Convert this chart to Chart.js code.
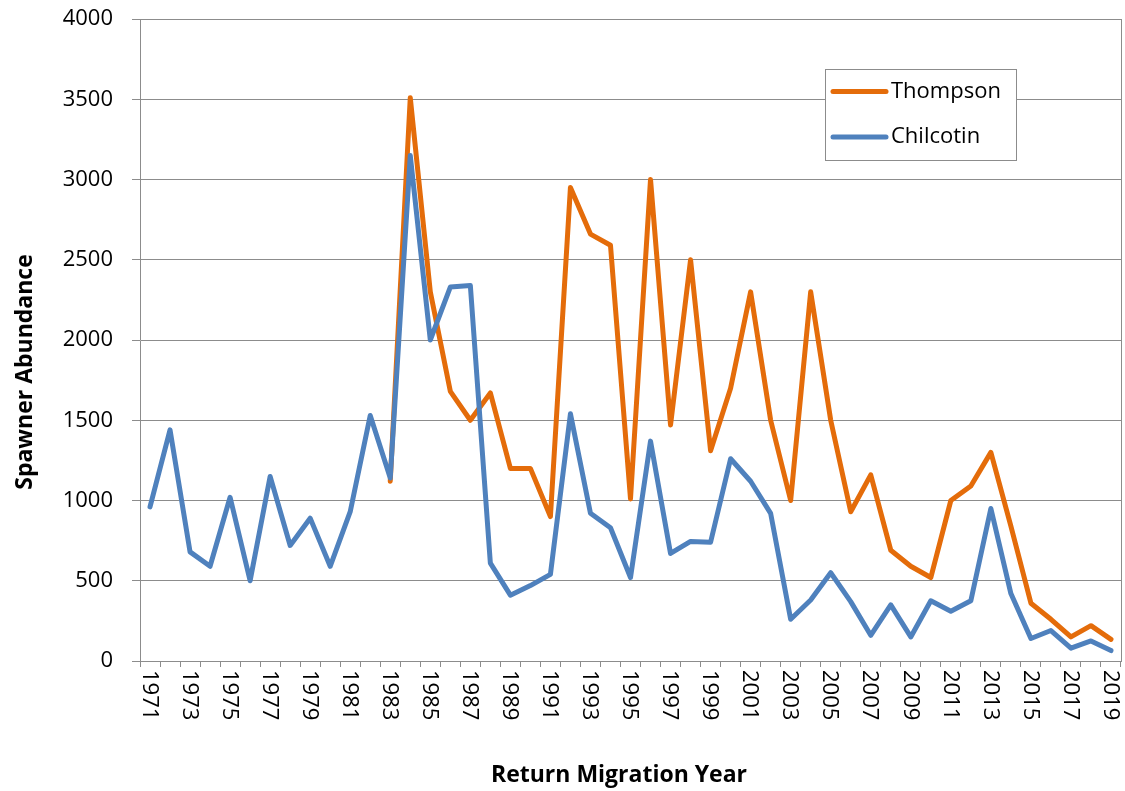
<!DOCTYPE html>
<html>
<head>
<meta charset="utf-8">
<script src="https://cdn.jsdelivr.net/npm/chart.js@4.4.0/dist/chart.umd.min.js"></script>
<style>
  html, body { margin: 0; padding: 0; background: #ffffff; }
  #wrap { width: 1125px; height: 791px; }
</style>
</head>
<body>
<div id="wrap"><canvas id="c" width="1125" height="791"></canvas></div>
<script>
const years = ["1971","1972","1973","1974","1975","1976","1977","1978","1979","1980",
  "1981","1982","1983","1984","1985","1986","1987","1988","1989","1990",
  "1991","1992","1993","1994","1995","1996","1997","1998","1999","2000",
  "2001","2002","2003","2004","2005","2006","2007","2008","2009","2010",
  "2011","2012","2013","2014","2015","2016","2017","2018","2019"];

const thompson = [null,null,null,null,null,null,null,null,null,null,
  null,null,1120,3510,2300,1680,1500,1670,1200,1200,
  900,2950,2660,2590,1010,3000,1470,2500,1310,1700,
  2300,1500,1000,2300,1500,930,1160,690,590,520,
  1000,1090,1300,840,360,260,150,220,135];

const chilcotin = [960,1440,680,590,1020,500,1150,720,890,590,
  930,1530,1140,3150,2000,2330,2340,610,410,470,
  540,1540,920,830,520,1370,670,745,740,1260,
  1120,920,260,380,550,370,160,350,150,375,
  310,375,950,420,140,190,80,125,65];

const yTicks = [0,500,1000,1500,2000,2500,3000,3500,4000];
const xTitle = "Return Migration Year";
const yTitle = "Spawner Abundance";

const ORANGE = "#E46C0A";
const BLUE = "#4F81BD";
const GRID = "#8C8C8C";
const FONT = "'Open Sans', 'Liberation Sans', sans-serif";

const decor = {
  id: "decor",
  afterDraw(chart) {
    const ctx = chart.ctx;
    const ca = chart.chartArea;
    const xs = chart.scales.x;
    ctx.save();
    // right border of plot area
    ctx.strokeStyle = GRID;
    ctx.lineWidth = 1;
    ctx.beginPath();
    ctx.moveTo(Math.round(ca.right) + 0.5, ca.top);
    ctx.lineTo(Math.round(ca.right) + 0.5, ca.bottom);
    ctx.stroke();

    // x tick labels rotated clockwise, every other year
    ctx.fillStyle = "#000";
    ctx.font = "22px " + FONT;
    ctx.textAlign = "left";
    ctx.textBaseline = "middle";
    years.forEach((lab, i) => {
      if (i % 2 !== 0) return;
      const px = xs.getPixelForValue(i);
      ctx.save();
      ctx.translate(px, ca.bottom + 9);
      ctx.rotate(Math.PI / 2);
      ctx.fillText(lab, 0, 1);
      ctx.restore();
    });

    // axis titles
    ctx.font = "bold 23px " + FONT;
    ctx.textAlign = "center";
    ctx.textBaseline = "middle";
    ctx.fillText(xTitle, 619, 775);
    ctx.save();
    ctx.translate(25, 372);
    ctx.rotate(-Math.PI / 2);
    ctx.fillText(yTitle, 0, 0);
    ctx.restore();

    // legend
    const bx = 825, by = 69, bw = 191, bh = 91;
    ctx.fillStyle = "#fff";
    ctx.fillRect(bx, by, bw, bh);
    ctx.strokeStyle = GRID;
    ctx.lineWidth = 1;
    ctx.strokeRect(bx + 0.5, by + 0.5, bw, bh);
    const items = [
      { label: chart.data.datasets[1].label, color: chart.data.datasets[1].borderColor, y: 91.5 },
      { label: chart.data.datasets[0].label, color: chart.data.datasets[0].borderColor, y: 137 }
    ];
    ctx.font = "22px " + FONT;
    ctx.textAlign = "left";
    ctx.textBaseline = "middle";
    items.forEach(it => {
      ctx.strokeStyle = it.color;
      ctx.lineWidth = 5;
      ctx.lineCap = "round";
      ctx.beginPath();
      ctx.moveTo(833, it.y);
      ctx.lineTo(886, it.y);
      ctx.stroke();
      ctx.fillStyle = "#000";
      ctx.fillText(it.label, 891, it.y);
    });
    ctx.restore();
  }
};

new Chart(document.getElementById("c"), {
  type: "line",
  data: {
    labels: years,
    datasets: [
      {
        label: "Chilcotin",
        data: chilcotin,
        borderColor: BLUE,
        backgroundColor: BLUE,
        borderWidth: 5,
        pointRadius: 0,
        tension: 0,
        borderJoinStyle: "round",
        borderCapStyle: "round",
        spanGaps: false
      },
      {
        label: "Thompson",
        data: thompson,
        borderColor: ORANGE,
        backgroundColor: ORANGE,
        borderWidth: 5,
        pointRadius: 0,
        tension: 0,
        borderJoinStyle: "round",
        borderCapStyle: "round",
        spanGaps: false
      }
    ]
  },
  options: {
    responsive: false,
    animation: false,
    devicePixelRatio: 1,
    layout: { padding: { top: 19, right: 4, left: 0, bottom: 0 } },
    plugins: {
      legend: { display: false },
      tooltip: { enabled: false }
    },
    scales: {
      x: {
        type: "category",
        offset: true,
        grid: {
          offset: true,
          drawOnChartArea: false,
          drawTicks: true,
          tickLength: 6,
          color: GRID,
          tickColor: GRID
        },
        border: { color: GRID, width: 1 },
        ticks: { display: false },
        afterFit(s) { s.height = 130; s.paddingLeft = 0; s.paddingRight = 0; }
      },
      y: {
        min: 0,
        max: 4000,
        afterBuildTicks(s) { s.ticks = yTicks.map(v => ({ value: v })); },
        ticks: {
          color: "#000",
          font: { family: FONT, size: 22 },
          padding: 19,
          callback: (v) => String(v)
        },
        grid: {
          color: GRID,
          tickColor: GRID,
          tickLength: 8,
          lineWidth: 1
        },
        border: { color: GRID, width: 1 },
        afterFit(s) { s.width = 140; s.paddingTop = 0; s.paddingBottom = 0; }
      }
    }
  },
  plugins: [decor]
});
</script>
</body>
</html>
